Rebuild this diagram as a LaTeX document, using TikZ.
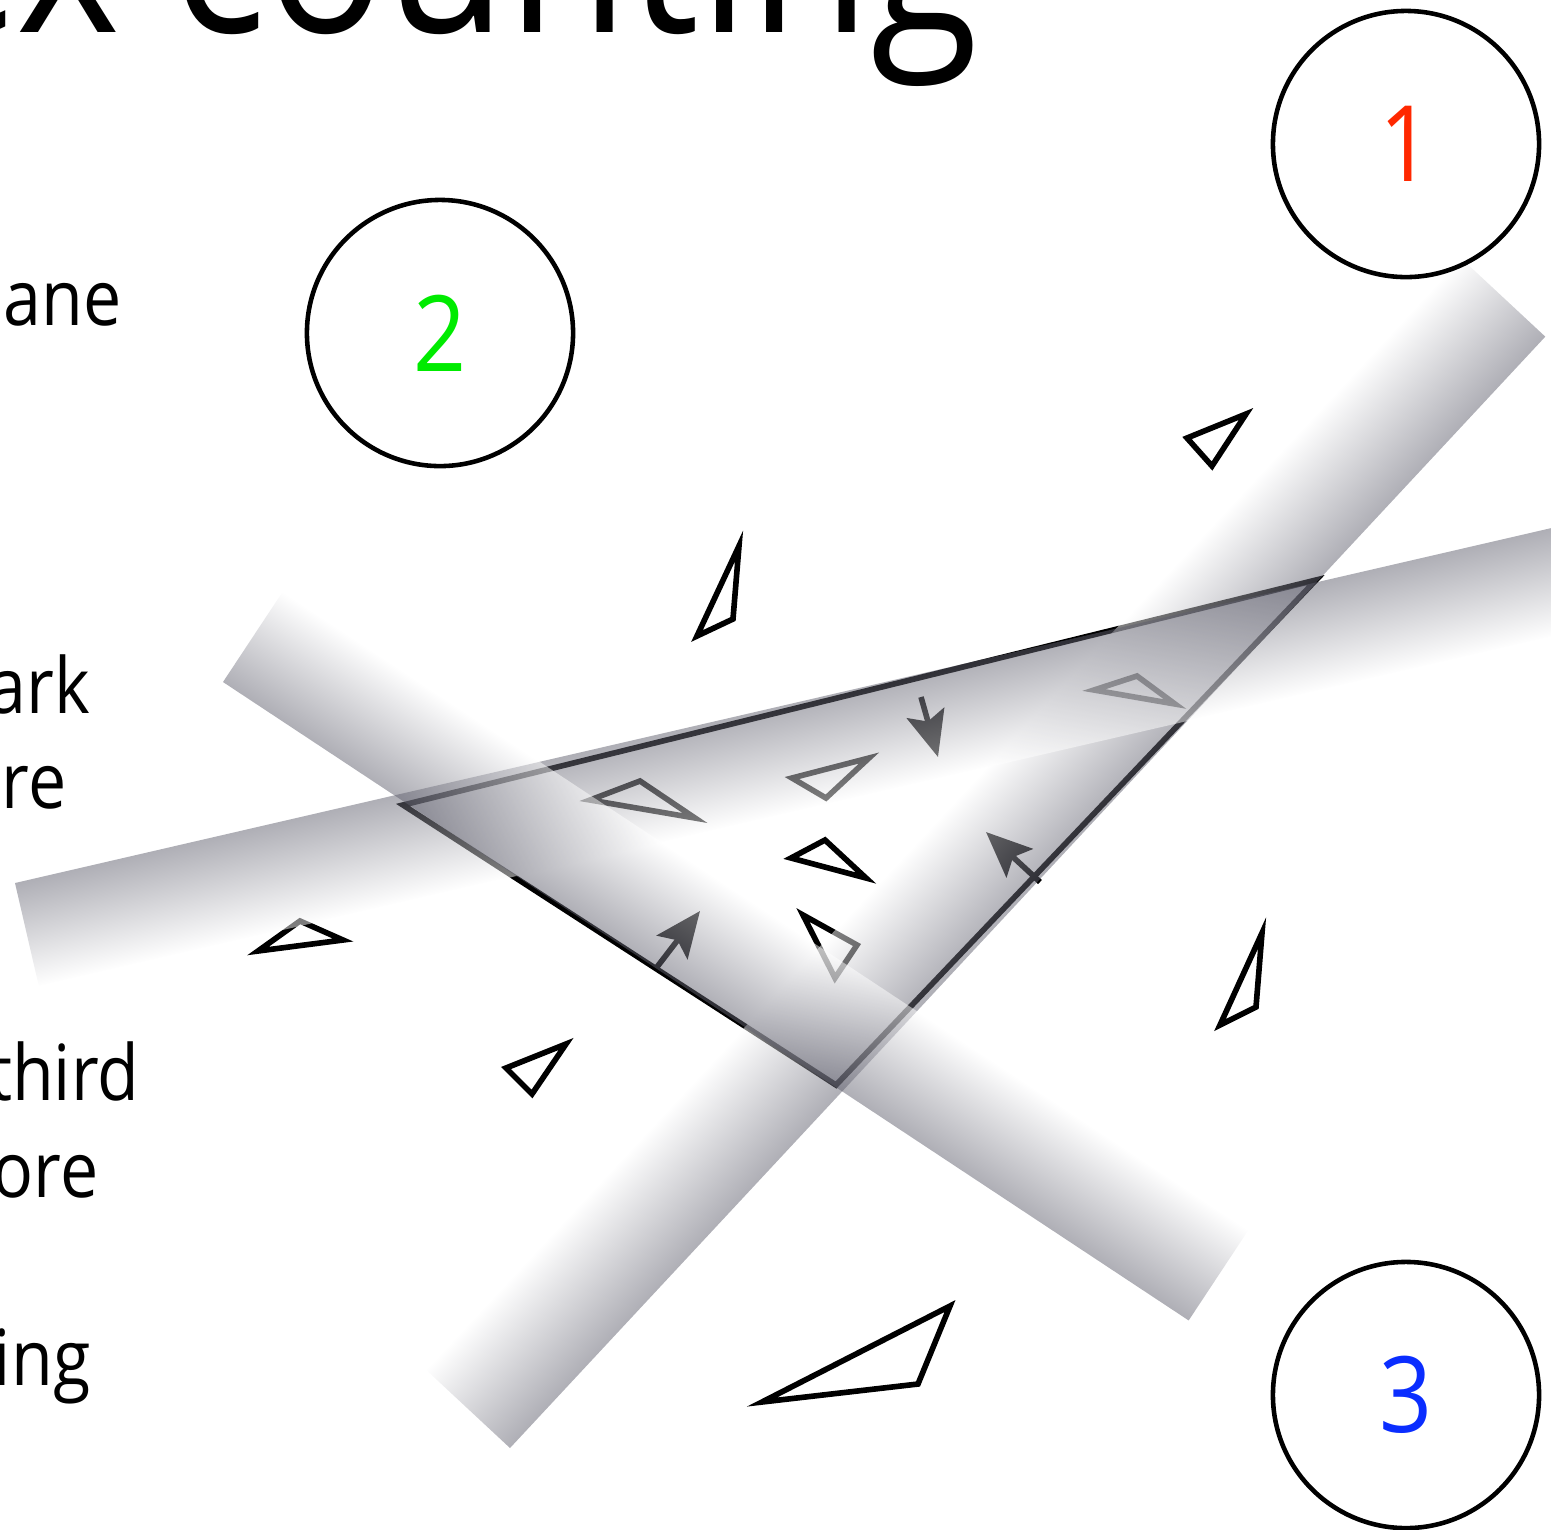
\documentclass[tikz,border=0pt]{standalone}
\usepackage{fontspec}
\setmainfont[FakeStretch=0.88]{Open Sans}
\usetikzlibrary{arrows.meta}

\definecolor{bandgray}{RGB}{95,95,109}
\definecolor{onered}{RGB}{255,40,0}
\definecolor{twogreen}{RGB}{0,235,0}
\definecolor{threeblue}{RGB}{10,45,255}

\begin{document}
\begin{tikzpicture}[
    x=0.01cm, y=-0.01cm,
    >={Stealth[length=13pt,width=11pt,inset=2.5pt]},
    numcircle/.style={circle, draw, line width=1.3pt, minimum size=2.66cm, inner sep=0pt,
                      font=\fontsize{30}{30}\selectfont},
    frag/.style={anchor=base east, inner sep=0pt, font=\fontsize{22}{26}\selectfont},
    tri/.style={draw, line width=1.6pt, line join=miter},
    halfplane/.style={opacity=0.5, bottom color=bandgray, top color=white},
    halfplanedown/.style={opacity=0.5, top color=bandgray, bottom color=white}
]
\useasboundingbox (0,0) rectangle (1551,1529);

% title and text lines
\node (title) [anchor=base east, inner sep=0pt, font=\fontsize{64}{66}\selectfont] at (980,32) {ex counting};
\node (ane)   [frag] at (122,325)  {ane};
\node (ark)   [frag] at (91,713)   {ark};
\node (re)    [frag] at (67,808)   {re};
\node (third) [frag] at (140,1100) {third};
\node (ore)   [frag] at (99,1197)  {ore};
\node (ing)   [frag] at (91,1385)  {ing};

% feasible region
\coordinate (v1) at (403,805);
\coordinate (v2) at (1316,580);
\coordinate (v3) at (836,1085);
\draw[tri] (v1) -- (v2) -- (v3) -- cycle;

% small triangles
\draw[tri] (1246,414) -- (1187,438) -- (1212,466) -- cycle;
\draw[tri] (739,546)  -- (697,636)  -- (733,619)  -- cycle;
\draw[tri] (300,921)  -- (343,940)  -- (258,951)  -- cycle;
\draw[tri] (1262,933) -- (1220,1025) -- (1256,1007) -- cycle;
\draw[tri] (950,1306) -- (918,1384) -- (762,1402) -- cycle;
\draw[tri] (566,1044) -- (506,1068) -- (532,1094) -- cycle;
\draw[tri] (640,781)  -- (695,818)  -- (590,800)  -- cycle;
\draw[tri] (869,758)  -- (792,778)  -- (826,798)  -- cycle;
\draw[tri] (1137,676) -- (1175,704) -- (1094,690) -- cycle;
\draw[tri] (825,840)  -- (866,878)  -- (791,858)  -- cycle;
\draw[tri] (803,915)  -- (857,945)  -- (835,978)  -- cycle;

% Edges
\coordinate (top0) at (921,697);
\coordinate (top1) at (938,757);
\coordinate (low0) at (657,967);
\coordinate (low1) at (700,911);
\coordinate (rgt0) at (1040,882);
\coordinate (rgt1) at (986,832);
\draw[->, line width=1.6pt] (top0) -- (top1);
\draw[->, line width=1.6pt] (low0) -- (low1);
\draw[->, line width=1.6pt] (rgt0) -- (rgt1);

% half-planes
\shade[halfplane, transform canvas={shift={(510,1448)}, rotate=47.03}]
    (0cm,0cm) rectangle (15.18cm,1.15cm);
\shade[halfplanedown, transform canvas={shift={(15,883)}, rotate=13.01}]
    (0cm,-1.06cm) rectangle (16.5cm,0cm);
\shade[halfplane, transform canvas={shift={(223,682)}, rotate=-33.47}]
    (0cm,0cm) rectangle (11.57cm,1.08cm);

% numbered circles
\node (one)   [numcircle, text=onered]    at (1406,144)  {1};
\node (two)   [numcircle, text=twogreen]  at (440,333)   {2};
\node (three) [numcircle, text=threeblue] at (1406,1395) {3};

\end{tikzpicture}
\end{document}
